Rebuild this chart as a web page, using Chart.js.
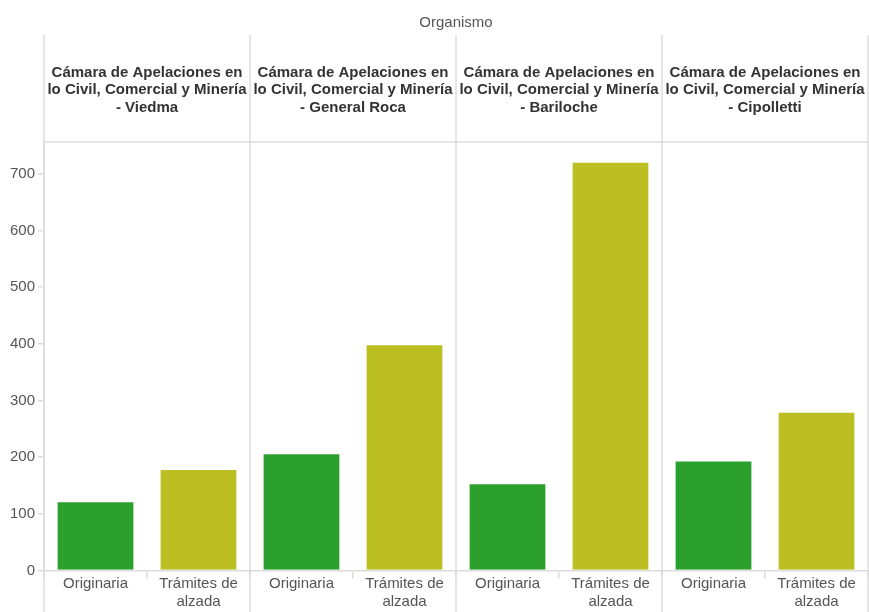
<!DOCTYPE html>
<html>
<head>
<meta charset="utf-8">
<script src="https://cdn.jsdelivr.net/npm/chart.js@4/dist/chart.umd.min.js"></script>
<style>
html,body{margin:0;padding:0;background:#fff;}
#wrap{width:869px;height:612px;position:relative;}
</style>
</head>
<body>
<div id="wrap"><canvas id="c"></canvas></div>
<script>
// ---- data ----
const organismos = [
  ['Cámara de Apelaciones en', 'lo Civil, Comercial y Minería', '- Viedma'],
  ['Cámara de Apelaciones en', 'lo Civil, Comercial y Minería', '- General Roca'],
  ['Cámara de Apelaciones en', 'lo Civil, Comercial y Minería', '- Bariloche'],
  ['Cámara de Apelaciones en', 'lo Civil, Comercial y Minería', '- Cipolletti']
];
const tipos = ['Originaria', ['Trámites de', 'alzada']];
const originaria = [122, 207, 154, 194];
const tramites = [179, 399, 721, 280];
const yTickValues = [0, 100, 200, 300, 400, 500, 600, 700];
const axisTitle = 'Organismo';

// ---- build chart tables ----
const labels = [];
const values = [];
const colors = [];
const COL_ORIG = '#2ca02c', COL_TRAM = '#bcbf22';
organismos.forEach((o, i) => {
  labels.push(tipos[0]); values.push(originaria[i]); colors.push(COL_ORIG);
  labels.push(tipos[1]); values.push(tramites[i]); colors.push(COL_TRAM);
});

const FONT = '"Liberation Sans", Arial, sans-serif';
const LINE = '#dcdcdc';
const HEADER_TOP = 35;

const panelPlugin = {
  id: 'panels',
  beforeDatasetsDraw(chart) {
    const ctx = chart.ctx, x2 = chart.scales.x2, area = chart.chartArea;
    const n = x2.ticks.length;
    const half = (x2.getPixelForTick(1) - x2.getPixelForTick(0)) / 2;
    ctx.save();
    ctx.strokeStyle = LINE;
    ctx.lineWidth = 1.5;
    for (let i = 0; i <= n; i++) {
      const x = i < n ? x2.getPixelForTick(i) - half : x2.getPixelForTick(n - 1) + half;
      ctx.beginPath();
      ctx.moveTo(x, HEADER_TOP);
      ctx.lineTo(x, chart.height);
      ctx.stroke();
    }
    ctx.beginPath();
    ctx.moveTo(area.left, area.top);
    ctx.lineTo(area.right, area.top);
    ctx.stroke();
    ctx.restore();
  }
};

function noSidePad(s) { s.paddingLeft = 0; s.paddingRight = 0; }

new Chart(document.getElementById('c'), {
  type: 'bar',
  data: {
    labels: labels,
    datasets: [{
      data: values,
      backgroundColor: colors,
      borderColor: 'rgba(255,255,255,0.35)',
      borderWidth: 1,
      barPercentage: 0.755,
      categoryPercentage: 1.0
    }]
  },
  options: {
    responsive: true,
    maintainAspectRatio: false,
    animation: false,
    layout: { padding: { left: 0, right: 1, top: 0, bottom: 0 } },
    plugins: { legend: { display: false }, tooltip: { enabled: false }, title: { display: false } },
    scales: {
      x: {
        type: 'category',
        position: 'bottom',
        offset: true,
        grid: { display: true, drawOnChartArea: false, offset: true, tickLength: 8, color: LINE, lineWidth: 1.5 },
        border: { display: true, color: LINE, width: 1.5 },
        ticks: { font: { family: FONT, size: 15, lineHeight: 1.2 }, color: '#555', padding: -4, maxRotation: 0, autoSkip: false },
        afterFit(s) { s.height = 41.5; noSidePad(s); }
      },
      x2: {
        type: 'category',
        position: 'top',
        labels: organismos,
        offset: true,
        grid: { display: false },
        border: { display: false },
        ticks: { font: { family: FONT, size: 15, weight: 'bold', lineHeight: 1.15 }, color: '#333', padding: 18, maxRotation: 0, autoSkip: false },
        title: { display: true, text: axisTitle, font: { family: FONT, size: 15 }, color: '#555', padding: { top: 14, bottom: 0 } },
        afterFit(s) { s.height = 142; noSidePad(s); }
      },
      y: {
        type: 'linear',
        min: 0,
        max: 756,
        afterBuildTicks(s) { s.ticks = yTickValues.map(v => ({ value: v })); },
        grid: { display: true, drawOnChartArea: false, tickLength: 6, color: LINE, lineWidth: 1.5 },
        border: { display: true, color: LINE, width: 1.5 },
        ticks: { font: { family: FONT, size: 15 }, color: '#555', padding: 3 },
        afterFit(s) { s.width = 44; }
      }
    }
  },
  plugins: [panelPlugin]
});
</script>
</body>
</html>
